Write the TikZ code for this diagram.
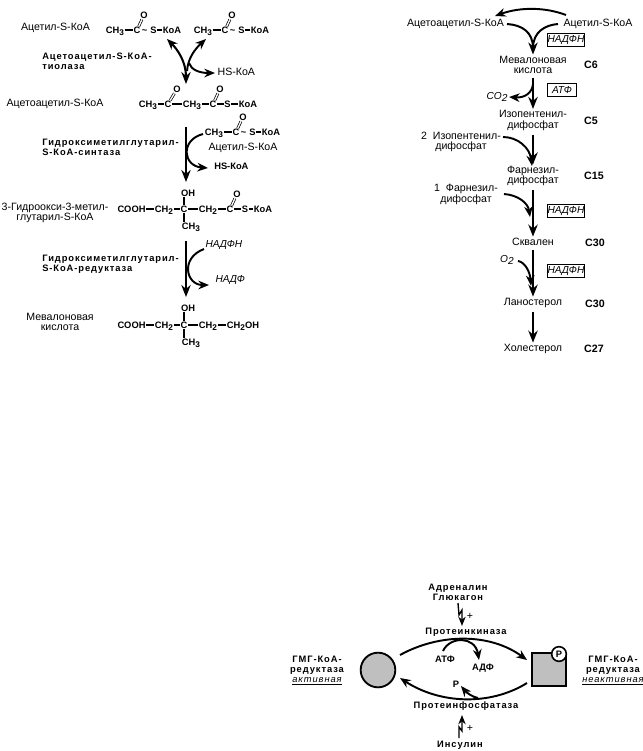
\documentclass[tikz,border=0pt]{standalone}
\usepackage{fontspec}
\setmainfont{Liberation Sans}
\newfontfamily\spcfont[LetterSpace=10]{Liberation Sans}
\usetikzlibrary{arrows.meta}
\newcommand{\sbs}[1]{\raisebox{-1.6pt}{\fontsize{6.2}{6}\selectfont #1}}
\newcommand{\hthree}{CH\sbs{3}}
\newcommand{\htwo}{CH\sbs{2}}
\tikzset{
  atom/.style={font=\fontsize{7}{8}\selectfont\bfseries, inner sep=0pt, text height=5.2pt, text depth=0pt},
  bond/.style={line width=1pt, shorten >=.4pt, shorten <=.4pt},
  dbond/.style={double, double distance=1pt, line width=.55pt, shorten >=.5pt},
  lbl/.style={font=\fontsize{7.95}{7.8}\selectfont, inner sep=1pt, align=center},
  enz/.style={font=\fontsize{7}{7.4}\selectfont\spcfont\bfseries, inner sep=0pt, align=left, anchor=west},
  enzc/.style={font=\fontsize{7}{7.4}\selectfont\spcfont\bfseries, inner sep=0pt, align=center},
  ital/.style={font=\fontsize{7.6}{8}\selectfont\itshape, inner sep=1pt},
  cfg/.style={font=\fontsize{8}{8}\selectfont\bfseries, inner sep=0pt},
  boxed/.style={draw, line width=.6pt, font=\fontsize{7.6}{8}\selectfont\itshape, inner sep=0pt, minimum width=28pt, minimum height=9.5pt},
  boxeds/.style={boxed, minimum width=22pt},
  main/.style={line width=1.55pt, -{Stealth[length=9pt,width=7pt]}},
  side/.style={line width=1.45pt, -{Stealth[length=8pt,width=6.5pt]}},
  cyc/.style={line width=1.45pt, -{Stealth[length=8pt,width=6.5pt]}},
  regshape/.style={draw, line width=1.4pt, fill=black!25},
}
% acetyl-S-CoA fragment: prefix, x of CH3, y
\newcommand{\acetylgroup}[3]{%
  \node[atom] (#1h) at (#2,#3) {\hthree};
  \begin{scope}[shift={(#2,#3)}]
    \node[atom] (#1c) at (22,0) {C};
    \node[atom] (#1o) at (29,-15) {O};
    \node[atom] (#1t) at (29.5,0) {\char`\~};
    \node[atom] (#1s) at (38.5,0) {S};
    \node[atom] (#1k) at (57,0) {КоА};
  \end{scope}
  \draw[bond] (#1h) -- (#1c);
  \draw[dbond] (#1c) -- (#1o);
  \draw[bond] (#1s) -- (#1k);
}
\begin{document}
\begin{tikzpicture}[x=0.75pt,y=-0.75pt]
\useasboundingbox (0,0) rectangle (643,751);
\fill[white] (0,0) rectangle (643,751);

% ---------- left column ----------
\node[lbl] (acl) at (55.5,28) {Ацетил-S-КоА};
\acetylgroup{a}{115}{30}
\acetylgroup{b}{203}{30}
\node[enz] (e1) at (42,61.5) {Ацетоацетил-S-КоА-\\тиолаза};
\node[lbl,anchor=west] (hs1) at (216,72) {HS-КоА};
\node[lbl] (aal) at (55,103.5) {Ацетоацетил-S-КоА};

\node[atom] (c2h) at (148,104) {\hthree};
\node[atom] (c2c) at (168,104) {C};
\node[atom] (c2o) at (177,89) {O};
\node[atom] (c2m) at (192,104) {\hthree};
\node[atom] (c2d) at (213,104) {C};
\node[atom] (c2p) at (220,89) {O};
\node[atom] (c2s) at (227.5,104) {S};
\node[atom] (c2k) at (248,104) {КоА};
\draw[bond] (c2h) -- (c2c);
\draw[bond] (c2c) -- (c2m);
\draw[bond] (c2m) -- (c2d);
\draw[bond] (c2d) -- (c2s);
\draw[bond] (c2s) -- (c2k);
\draw[dbond] (c2c) -- (c2o);
\draw[dbond] (c2d) -- (c2p);

\coordinate (p1a) at (167,39);
\coordinate (p1b) at (186,84);
\coordinate (p1c) at (206,39);
\coordinate (p1d) at (187,71);
\coordinate (p1e) at (189,63);
\coordinate (p1f) at (215,73);
\draw[line width=1.55pt,{Stealth[length=8pt,width=6.5pt]}-{Stealth[length=9pt,width=7pt]}] (p1a) .. controls (178,50) and (186,62) .. (p1b);
\draw[side] (p1d) .. controls (188,58) and (195,49) .. (p1c);
\draw[side] (p1e) .. controls (191,70) and (200,73) .. (p1f);

\acetylgroup{d}{214}{132}
\node[enz] (e2) at (42,147) {Гидроксиметилглутарил-\\S-КоА-синтаза};
\node[lbl] (acl2) at (243,147.5) {Ацетил-S-КоА};
\node[atom,anchor=west] (hs2) at (214,166) {HS-КоА};

\coordinate (m2a) at (186,127);
\coordinate (m2b) at (186,182);
\coordinate (p2a) at (203,134);
\coordinate (p2b) at (208,168);
\draw[main] (m2a) -- (m2b);
\draw[side] (p2a) .. controls (180,140) and (183,166) .. (p2b);

% HMG-CoA
\node[lbl] (hmgl) at (55,213) {3-Гидроокси-3-метил-\\глутарил-S-КоА};
\node[atom] (h1) at (131.5,209) {COOH};
\node[atom] (h2) at (164,209) {\htwo};
\node[atom] (h3) at (184,209) {C};
\node[atom] (h4) at (208,209) {\htwo};
\node[atom] (h5) at (230,209) {C};
\node[atom] (h6) at (245,209) {S};
\node[atom] (h7) at (263,209) {КоА};
\node[atom] (h8) at (188,193) {OH};
\node[atom] (h9) at (191,226) {\hthree};
\node[atom] (h0) at (237,194) {O};
\draw[bond] (h1) -- (h2);
\draw[bond] (h2) -- (h3);
\draw[bond] (h3) -- (h4);
\draw[bond] (h4) -- (h5);
\draw[bond] (h5) -- (h6);
\draw[bond] (h6) -- (h7);
\draw[dbond] (h5) -- (h0);
\draw[bond] (h3.north) -- (h3.north |- h8.south);
\draw[bond] (h3.south) -- (h3.south |- h9.north);

\node[enz] (e3) at (42,264) {Гидроксиметилглутарил-\\S-КоА-редуктаза};
\node[ital,anchor=west] (n1) at (204,245) {НАДФН};
\node[ital,anchor=west] (n2) at (214,280) {НАДФ};
\coordinate (m3a) at (186,241);
\coordinate (m3b) at (186,297);
\coordinate (p3a) at (204,249);
\coordinate (p3b) at (209,285);
\draw[main] (m3a) -- (m3b);
\draw[side] (p3a) .. controls (180,258) and (186,285) .. (p3b);

% Mevalonate
\node[lbl] (mevl) at (60,322) {Мевалоновая\\кислота};
\node[atom] (v1) at (131.5,325) {COOH};
\node[atom] (v2) at (164,325) {\htwo};
\node[atom] (v3) at (184,325) {C};
\node[atom] (v4) at (208,325) {\htwo};
\node[atom] (v5) at (243,325) {\htwo OH};
\node[atom] (v6) at (188,308) {OH};
\node[atom] (v7) at (191,342) {\hthree};
\draw[bond] (v1) -- (v2);
\draw[bond] (v2) -- (v3);
\draw[bond] (v3) -- (v4);
\draw[bond] (v4) -- (v5);
\draw[bond] (v3.north) -- (v3.north |- v6.south);
\draw[bond] (v3.south) -- (v3.south |- v7.north);

% ---------- right column ----------
\node[lbl] (raa) at (455.5,24) {Ацетоацетил-S-КоА};
\node[lbl] (rac) at (598,24) {Ацетил-S-КоА};
\node[boxed] (bx1) at (566,40) {НАДФН};
\node[lbl] (rmev) at (533,65) {Мевалоновая\\кислота};
\node[cfg] (c6) at (591,65) {C6};
\coordinate (rt1) at (566,15);
\coordinate (rt2) at (495,16);
\coordinate (rjoin) at (533,48);
\coordinate (rjoin2) at (533,40);
\coordinate (rs1) at (507,24);
\coordinate (rs2) at (558,24);
\draw[side] (rt1) .. controls (545,7) and (520,7) .. (rt2);
\draw[line width=1.5pt] (rs1) .. controls (522,25) and (533,32) .. (rjoin);
\draw[line width=1.5pt] (rs2) .. controls (545,25) and (533,32) .. (rjoin);
\draw[main] (rjoin2) -- (rmev.north);

\node[boxeds] (bx2) at (562,90) {АТФ};
\node[ital] (co2) at (497,97) {CO\raisebox{-1.5pt}{2}};
\node[lbl] (ripp) at (533,120.5) {Изопентенил-\\дифосфат};
\node[cfg] (c5) at (591,121) {C5};
\draw[main,shorten <=2pt] (rmev.south) -- (ripp.north);
\coordinate (rco) at (533,84);
\draw[side] (rco) .. controls (532,93) and (525,98) .. (co2.east);

\node[lbl] (ipp2) at (461,142) {2 \ Изопентенил-\\дифосфат};
\node[lbl] (rfpp) at (533,176) {Фарнезил-\\дифосфат};
\node[cfg] (c15) at (594,176) {C15};
\draw[main,shorten <=2pt] (ripp.south) -- (rfpp.north);
\coordinate (ipps) at (503,137);
\coordinate (ipptip) at (532,166);
\draw[side] (ipps) .. controls (518,137) and (530,148) .. (ipptip);

\node[lbl] (fpp1) at (466,194.5) {1 \ Фарнезил-\\дифосфат};
\node[boxed] (bx3) at (566,211) {НАДФН};
\node[lbl] (rsq) at (533,242) {Сквален};
\node[cfg] (c30a) at (595,243) {C30};
\draw[main,shorten <=2pt] (rfpp.south) -- (rsq.north);
\coordinate (fp1) at (504,194);
\coordinate (fp2) at (530,217);
\draw[side] (fp1) .. controls (518,195) and (528,203) .. (fp2);

\node[ital] (o2) at (507,260) {O\raisebox{-1.5pt}{2}};
\node[boxed] (bx4) at (566,271) {НАДФН};
\node[lbl] (rlan) at (533,303) {Ланостерол};
\node[cfg] (c30b) at (595,304) {C30};
\draw[main,shorten <=2pt] (rsq.south) -- (rlan.north);
\coordinate (o2a) at (518,261);
\coordinate (o2b) at (531,286);
\draw[side] (o2a) .. controls (525,262) and (530,272) .. (o2b);

\node[lbl] (rcho) at (533,349) {Холестерол};
\node[cfg] (c27) at (594,349) {C27};
\draw[main,shorten <=2pt] (rlan.south) -- (rcho.north);

% ---------- regulation ----------
\node[enzc] (adr) at (458,592) {Адреналин\\Глюкагон};
\node[enzc] (pk) at (466,632) {Протеинкиназа};
\node[lbl] (plus1) at (470,616) {+};
\coordinate (lza) at (458,603);
\coordinate (lzb) at (462,626);
\draw[line width=1pt,-{Stealth[length=7pt,width=5.5pt]}] (lza) -- (459,615) -- (462,610) -- (lzb);
\node[enzc] (g1) at (317,670.5) {ГМГ-КоА-\\редуктаза\\\mdseries\itshape\underline{активная}};
\node[enzc] (g2) at (613,670.5) {ГМГ-КоА-\\редуктаза\\\mdseries\itshape\underline{неактивная}};
\node[regshape,circle,minimum size=26pt,inner sep=0pt] (act) at (378,670) {};
\node[regshape,rectangle,minimum size=25pt,inner sep=0pt] (ina) at (549,669.5) {};
\node[circle,draw,fill=white,line width=1.2pt,inner sep=0pt,minimum size=11pt,font=\fontsize{7}{8}\selectfont\bfseries] (pp) at (559,654) {P};
\coordinate (ua) at (400,655);
\coordinate (ub) at (527,660);
\coordinate (la) at (527,683);
\coordinate (lb) at (400,678);
\draw[cyc] (ua) .. controls (440,633) and (490,633) .. (ub);
\draw[cyc] (la) .. controls (490,706) and (440,704) .. (lb);
\node[atom] (atp) at (445,659) {АТФ};
\node[atom] (adp) at (483,667) {АДФ};
\node[atom] (pi) at (456,684) {P};
\coordinate (atpa) at (443,651);
\coordinate (adpa) at (479,660);
\draw[side] (atpa) .. controls (450,636) and (475,636) .. (adpa);
\coordinate (pcurve) at (478,698);
\coordinate (pitip) at (461,686);
\draw[side] (pcurve) .. controls (472,697) and (466,692) .. (pitip);
\node[enzc] (pp2a) at (466,706) {Протеинфосфатаза};
\node[enzc] (ins) at (460,745) {Инсулин};
\node[lbl] (plus2) at (470,728) {+};
\coordinate (lwa) at (459,738);
\coordinate (lwb) at (462,715);
\draw[line width=1pt,-{Stealth[length=7pt,width=5.5pt]}] (lwa) -- (459,727) -- (462,731) -- (lwb);
\end{tikzpicture}
\end{document}
